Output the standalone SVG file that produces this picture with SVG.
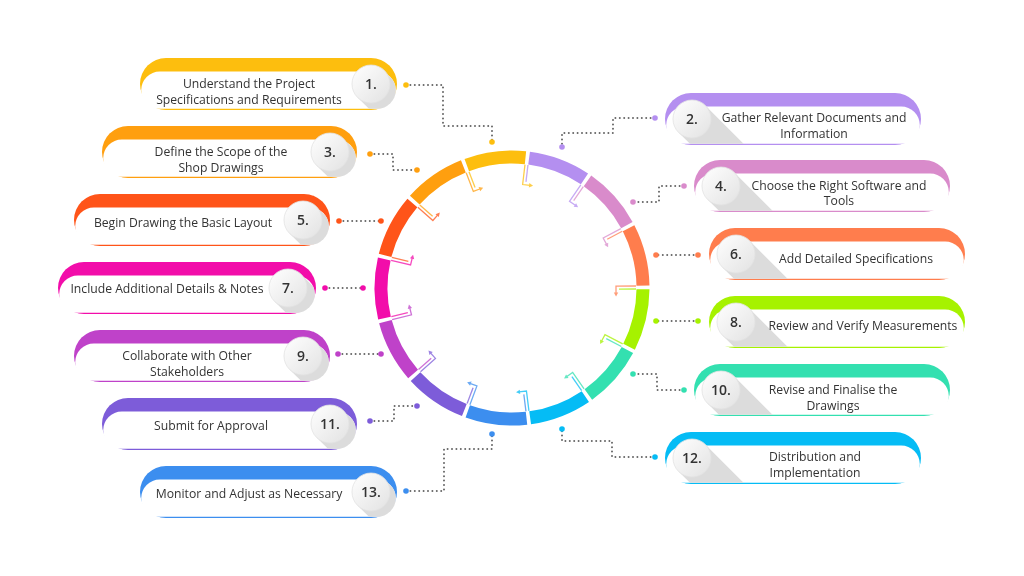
<svg xmlns="http://www.w3.org/2000/svg" width="1024" height="576" viewBox="0 0 1024 576">
<style>
.t{font-family:"Open Sans","Liberation Sans",sans-serif;font-size:12.2px;fill:#333;text-anchor:middle}
.n{font-family:"Open Sans","Liberation Sans",sans-serif;font-size:14px;font-weight:600;fill:#333;text-anchor:middle}
.conn{fill:none;stroke:#666;stroke-width:2;stroke-linecap:round;stroke-dasharray:0 4.4}
.seg{fill:none;stroke-width:13}
.dec{fill:none;stroke-width:1.3}
.sh{fill:#dcdcdc}
.cir{fill:url(#cg);stroke:#e2e2e2;stroke-width:.8}
</style>
<defs>
<linearGradient id="cg" x1="0" y1="0" x2="1" y2="1">
<stop offset="0" stop-color="#ffffff"/><stop offset="1" stop-color="#e2e2e2"/>
</linearGradient>
<clipPath id="c1"><rect x="141.2" y="71.5" width="254.6" height="37.3" rx="18.6"/></clipPath>
<clipPath id="c3"><rect x="103.2" y="139.5" width="252.6" height="37.3" rx="18.6"/></clipPath>
<clipPath id="c5"><rect x="75.2" y="207.5" width="253.6" height="37.3" rx="18.6"/></clipPath>
<clipPath id="c7"><rect x="59.2" y="275.5" width="255.6" height="37.3" rx="18.6"/></clipPath>
<clipPath id="c9"><rect x="75.2" y="343.5" width="253.6" height="37.3" rx="18.6"/></clipPath>
<clipPath id="c11"><rect x="103.2" y="411.5" width="252.6" height="37.3" rx="18.6"/></clipPath>
<clipPath id="c13"><rect x="141.2" y="479.5" width="254.6" height="37.3" rx="18.6"/></clipPath>
<clipPath id="c2"><rect x="666.2" y="106.5" width="253.6" height="37.3" rx="18.6"/></clipPath>
<clipPath id="c4"><rect x="695.2" y="173.5" width="253.6" height="37.3" rx="18.6"/></clipPath>
<clipPath id="c6"><rect x="710.2" y="241.5" width="253.6" height="37.3" rx="18.6"/></clipPath>
<clipPath id="c8"><rect x="710.2" y="309.5" width="253.6" height="37.3" rx="18.6"/></clipPath>
<clipPath id="c10"><rect x="695.2" y="377.5" width="253.6" height="37.3" rx="18.6"/></clipPath>
<clipPath id="c12"><rect x="666.2" y="445.5" width="253.6" height="37.3" rx="18.6"/></clipPath>
</defs>
<rect width="1024" height="576" fill="#fff"/>

<g id="ring">
<path class="seg" stroke="#FDBE0E" d="M466.79,165.04A131,131 0 0 1 525.47,157.69"/>
<path class="seg" stroke="#B48FF0" d="M529.10,158.12A131,131 0 0 1 584.47,178.86"/>
<path class="seg" stroke="#D98BCB" d="M587.50,180.93A131,131 0 0 1 626.89,225.05"/>
<path class="seg" stroke="#FF7D4D" d="M628.59,228.28A131,131 0 0 1 642.98,285.64"/>
<path class="seg" stroke="#A6F200" d="M642.99,289.30A131,131 0 0 1 629.07,346.78"/>
<path class="seg" stroke="#33E0B0" d="M627.40,350.03A131,131 0 0 1 588.36,394.46"/>
<path class="seg" stroke="#05BCF5" d="M585.35,396.53A131,131 0 0 1 530.14,417.74"/>
<path class="seg" stroke="#3C8EEF" d="M526.51,418.19A131,131 0 0 1 467.77,411.31"/>
<path class="seg" stroke="#7D5CD9" d="M464.34,410.03A131,131 0 0 1 415.53,376.63"/>
<path class="seg" stroke="#BF42C9" d="M413.11,373.91A131,131 0 0 1 385.40,321.65"/>
<path class="seg" stroke="#F20DAA" d="M384.50,318.12A131,131 0 0 1 384.25,258.97"/>
<path class="seg" stroke="#FF5419" d="M385.11,255.42A131,131 0 0 1 412.37,202.93"/>
<path class="seg" stroke="#FF9F0F" d="M414.77,200.18A131,131 0 0 1 463.37,166.37"/>
</g>

<g id="ring-marks" opacity="0.75">
<g transform="rotate(-20.99 512 288)"><path class="dec" stroke="#FF9F0F" d="M510.5,164V184H518"/><polygon fill="#FF9F0F" points="517,181.8 521,184 517,186.2"/><path class="dec" stroke="#FDBE0E" d="M513.5,164V181"/></g>
<g transform="rotate(6.70 512 288)"><path class="dec" stroke="#FDBE0E" d="M510.5,164V184H518"/><polygon fill="#FDBE0E" points="517,181.8 521,184 517,186.2"/><path class="dec" stroke="#B48FF0" d="M513.5,164V181"/></g>
<g transform="rotate(34.39 512 288)"><path class="dec" stroke="#B48FF0" d="M510.5,164V184H518"/><polygon fill="#B48FF0" points="517,181.8 521,184 517,186.2"/><path class="dec" stroke="#D98BCB" d="M513.5,164V181"/></g>
<g transform="rotate(62.08 512 288)"><path class="dec" stroke="#D98BCB" d="M510.5,164V184H518"/><polygon fill="#D98BCB" points="517,181.8 521,184 517,186.2"/><path class="dec" stroke="#FF7D4D" d="M513.5,164V181"/></g>
<g transform="rotate(89.77 512 288)"><path class="dec" stroke="#FF7D4D" d="M510.5,164V184H518"/><polygon fill="#FF7D4D" points="517,181.8 521,184 517,186.2"/><path class="dec" stroke="#A6F200" d="M513.5,164V181"/></g>
<g transform="rotate(117.46 512 288)"><path class="dec" stroke="#A6F200" d="M510.5,164V184H518"/><polygon fill="#A6F200" points="517,181.8 521,184 517,186.2"/><path class="dec" stroke="#33E0B0" d="M513.5,164V181"/></g>
<g transform="rotate(145.15 512 288)"><path class="dec" stroke="#33E0B0" d="M510.5,164V184H518"/><polygon fill="#33E0B0" points="517,181.8 521,184 517,186.2"/><path class="dec" stroke="#05BCF5" d="M513.5,164V181"/></g>
<g transform="rotate(172.84 512 288)"><path class="dec" stroke="#05BCF5" d="M510.5,164V184H518"/><polygon fill="#05BCF5" points="517,181.8 521,184 517,186.2"/><path class="dec" stroke="#3C8EEF" d="M513.5,164V181"/></g>
<g transform="rotate(200.53 512 288)"><path class="dec" stroke="#3C8EEF" d="M510.5,164V184H518"/><polygon fill="#3C8EEF" points="517,181.8 521,184 517,186.2"/><path class="dec" stroke="#7D5CD9" d="M513.5,164V181"/></g>
<g transform="rotate(228.22 512 288)"><path class="dec" stroke="#7D5CD9" d="M510.5,164V184H518"/><polygon fill="#7D5CD9" points="517,181.8 521,184 517,186.2"/><path class="dec" stroke="#BF42C9" d="M513.5,164V181"/></g>
<g transform="rotate(255.91 512 288)"><path class="dec" stroke="#BF42C9" d="M510.5,164V184H518"/><polygon fill="#BF42C9" points="517,181.8 521,184 517,186.2"/><path class="dec" stroke="#F20DAA" d="M513.5,164V181"/></g>
<g transform="rotate(283.60 512 288)"><path class="dec" stroke="#F20DAA" d="M510.5,164V184H518"/><polygon fill="#F20DAA" points="517,181.8 521,184 517,186.2"/><path class="dec" stroke="#FF5419" d="M513.5,164V181"/></g>
<g transform="rotate(311.29 512 288)"><path class="dec" stroke="#FF5419" d="M510.5,164V184H518"/><polygon fill="#FF5419" points="517,181.8 521,184 517,186.2"/><path class="dec" stroke="#FF9F0F" d="M513.5,164V181"/></g>
</g>

<g id="connectors">
<path class="conn" d="M406,85H443V126H492V142"/>
<path class="conn" d="M655,118H613V133H562V147"/>
<path class="conn" d="M370,154H393V170H417"/>
<path class="conn" d="M684,186H659V202H633"/>
<path class="conn" d="M339,221H381"/>
<path class="conn" d="M698,255H656"/>
<path class="conn" d="M325,288H363"/>
<path class="conn" d="M698,321H656"/>
<path class="conn" d="M338,354H381"/>
<path class="conn" d="M684,390H657V374H633"/>
<path class="conn" d="M370,421H394V406H417"/>
<path class="conn" d="M655,457H612V441H562V429"/>
<path class="conn" d="M406,491H444V449H492V434"/>
<g>
<circle cx="406" cy="85" r="2.8" fill="#FDBE0E"/><circle cx="492" cy="142" r="2.8" fill="#FDBE0E"/>
<circle cx="655" cy="118" r="2.8" fill="#B48FF0"/><circle cx="562" cy="147" r="2.8" fill="#B48FF0"/>
<circle cx="370" cy="154" r="2.8" fill="#FF9F0F"/><circle cx="417" cy="170" r="2.8" fill="#FF9F0F"/>
<circle cx="684" cy="186" r="2.8" fill="#D98BCB"/><circle cx="633" cy="202" r="2.8" fill="#D98BCB"/>
<circle cx="339" cy="221" r="2.8" fill="#FF5419"/><circle cx="381" cy="221" r="2.8" fill="#FF5419"/>
<circle cx="698" cy="255" r="2.8" fill="#FF7D4D"/><circle cx="656" cy="255" r="2.8" fill="#FF7D4D"/>
<circle cx="325" cy="288" r="2.8" fill="#F20DAA"/><circle cx="363" cy="288" r="2.8" fill="#F20DAA"/>
<circle cx="698" cy="321" r="2.8" fill="#A6F200"/><circle cx="656" cy="321" r="2.8" fill="#A6F200"/>
<circle cx="338" cy="354" r="2.8" fill="#BF42C9"/><circle cx="381" cy="354" r="2.8" fill="#BF42C9"/>
<circle cx="684" cy="390" r="2.8" fill="#33E0B0"/><circle cx="633" cy="374" r="2.8" fill="#33E0B0"/>
<circle cx="370" cy="421" r="2.8" fill="#7D5CD9"/><circle cx="417" cy="406" r="2.8" fill="#7D5CD9"/>
<circle cx="655" cy="457" r="2.8" fill="#05BCF5"/><circle cx="562" cy="429" r="2.8" fill="#05BCF5"/>
<circle cx="406" cy="491" r="2.8" fill="#3C8EEF"/><circle cx="492" cy="434" r="2.8" fill="#3C8EEF"/>
</g>
</g>

<g id="step1">
<rect x="140" y="58" width="257" height="52" rx="26" fill="#FDBE0E"/>
<rect x="141.2" y="71.5" width="254.6" height="37.3" rx="18.6" fill="#fff"/>
<polygon class="sh" clip-path="url(#c1)" points="357.6,97.4 384.4,70.6 464.4,150.6 437.6,177.4"/>
<circle class="cir" cx="371" cy="84" r="19"/>
<text class="n" x="371" y="89">1.</text>
<text class="t" x="249" y="88">Understand the Project</text>
<text class="t" x="249" y="103.5">Specifications and Requirements</text>
</g>

<g id="step3">
<rect x="102" y="126" width="255" height="52" rx="26" fill="#FF9F0F"/>
<rect x="103.2" y="139.5" width="252.6" height="37.3" rx="18.6" fill="#fff"/>
<polygon class="sh" clip-path="url(#c3)" points="316.6,165.4 343.4,138.6 423.4,218.6 396.6,245.4"/>
<circle class="cir" cx="330" cy="152" r="19"/>
<text class="n" x="330" y="157">3.</text>
<text class="t" x="221" y="156">Define the Scope of the</text>
<text class="t" x="221" y="171.5">Shop Drawings</text>
</g>

<g id="step5">
<rect x="74" y="194" width="256" height="52" rx="26" fill="#FF5419"/>
<rect x="75.2" y="207.5" width="253.6" height="37.3" rx="18.6" fill="#fff"/>
<polygon class="sh" clip-path="url(#c5)" points="289.6,233.4 316.4,206.6 396.4,286.6 369.6,313.4"/>
<circle class="cir" cx="303" cy="220" r="19"/>
<text class="n" x="303" y="225">5.</text>
<text class="t" x="183" y="227">Begin Drawing the Basic Layout</text>
</g>

<g id="step7">
<rect x="58" y="262" width="258" height="52" rx="26" fill="#F20DAA"/>
<rect x="59.2" y="275.5" width="255.6" height="37.3" rx="18.6" fill="#fff"/>
<polygon class="sh" clip-path="url(#c7)" points="274.6,301.4 301.4,274.6 381.4,354.6 354.6,381.4"/>
<circle class="cir" cx="288" cy="288" r="19"/>
<text class="n" x="288" y="293">7.</text>
<text class="t" x="167" y="293">Include Additional Details &amp; Notes</text>
</g>

<g id="step9">
<rect x="74" y="330" width="256" height="52" rx="26" fill="#BF42C9"/>
<rect x="75.2" y="343.5" width="253.6" height="37.3" rx="18.6" fill="#fff"/>
<polygon class="sh" clip-path="url(#c9)" points="289.6,369.4 316.4,342.6 396.4,422.6 369.6,449.4"/>
<circle class="cir" cx="303" cy="356" r="19"/>
<text class="n" x="303" y="361">9.</text>
<text class="t" x="187" y="360">Collaborate with Other</text>
<text class="t" x="187" y="375.5">Stakeholders</text>
</g>

<g id="step11">
<rect x="102" y="398" width="255" height="52" rx="26" fill="#7D5CD9"/>
<rect x="103.2" y="411.5" width="252.6" height="37.3" rx="18.6" fill="#fff"/>
<polygon class="sh" clip-path="url(#c11)" points="316.6,437.4 343.4,410.6 423.4,490.6 396.6,517.4"/>
<circle class="cir" cx="330" cy="424" r="19"/>
<text class="n" x="330" y="429">11.</text>
<text class="t" x="211" y="429.5">Submit for Approval</text>
</g>

<g id="step13">
<rect x="140" y="466" width="257" height="52" rx="26" fill="#3C8EEF"/>
<rect x="141.2" y="479.5" width="254.6" height="37.3" rx="18.6" fill="#fff"/>
<polygon class="sh" clip-path="url(#c13)" points="357.6,505.4 384.4,478.6 464.4,558.6 437.6,585.4"/>
<circle class="cir" cx="371" cy="492" r="19"/>
<text class="n" x="371" y="497">13.</text>
<text class="t" x="249" y="497.5">Monitor and Adjust as Necessary</text>
</g>

<g id="step2">
<rect x="665" y="93" width="256" height="52" rx="26" fill="#B48FF0"/>
<rect x="666.2" y="106.5" width="253.6" height="37.3" rx="18.6" fill="#fff"/>
<polygon class="sh" clip-path="url(#c2)" points="678.6,132.4 705.4,105.6 785.4,185.6 758.6,212.4"/>
<circle class="cir" cx="692" cy="119" r="19"/>
<text class="n" x="692" y="124">2.</text>
<text class="t" x="814" y="122">Gather Relevant Documents and</text>
<text class="t" x="814" y="137.5">Information</text>
</g>

<g id="step4">
<rect x="694" y="160" width="256" height="52" rx="26" fill="#D98BCB"/>
<rect x="695.2" y="173.5" width="253.6" height="37.3" rx="18.6" fill="#fff"/>
<polygon class="sh" clip-path="url(#c4)" points="707.6,199.4 734.4,172.6 814.4,252.6 787.6,279.4"/>
<circle class="cir" cx="721" cy="186" r="19"/>
<text class="n" x="721" y="191">4.</text>
<text class="t" x="839" y="189.5">Choose the Right Software and</text>
<text class="t" x="839" y="205">Tools</text>
</g>

<g id="step6">
<rect x="709" y="228" width="256" height="52" rx="26" fill="#FF7D4D"/>
<rect x="710.2" y="241.5" width="253.6" height="37.3" rx="18.6" fill="#fff"/>
<polygon class="sh" clip-path="url(#c6)" points="722.6,267.4 749.4,240.6 829.4,320.6 802.6,347.4"/>
<circle class="cir" cx="736" cy="254" r="19"/>
<text class="n" x="736" y="259">6.</text>
<text class="t" x="856" y="263">Add Detailed Specifications</text>
</g>

<g id="step8">
<rect x="709" y="296" width="256" height="52" rx="26" fill="#A6F200"/>
<rect x="710.2" y="309.5" width="253.6" height="37.3" rx="18.6" fill="#fff"/>
<polygon class="sh" clip-path="url(#c8)" points="722.6,335.4 749.4,308.6 829.4,388.6 802.6,415.4"/>
<circle class="cir" cx="736" cy="322" r="19"/>
<text class="n" x="736" y="327">8.</text>
<text class="t" x="863" y="329.5">Review and Verify Measurements</text>
</g>

<g id="step10">
<rect x="694" y="364" width="256" height="52" rx="26" fill="#33E0B0"/>
<rect x="695.2" y="377.5" width="253.6" height="37.3" rx="18.6" fill="#fff"/>
<polygon class="sh" clip-path="url(#c10)" points="707.6,403.4 734.4,376.6 814.4,456.6 787.6,483.4"/>
<circle class="cir" cx="721" cy="390" r="19"/>
<text class="n" x="721" y="395">10.</text>
<text class="t" x="833" y="394">Revise and Finalise the</text>
<text class="t" x="833" y="409.5">Drawings</text>
</g>

<g id="step12">
<rect x="665" y="432" width="256" height="52" rx="26" fill="#05BCF5"/>
<rect x="666.2" y="445.5" width="253.6" height="37.3" rx="18.6" fill="#fff"/>
<polygon class="sh" clip-path="url(#c12)" points="678.6,471.4 705.4,444.6 785.4,524.6 758.6,551.4"/>
<circle class="cir" cx="692" cy="458" r="19"/>
<text class="n" x="692" y="463">12.</text>
<text class="t" x="815" y="461">Distribution and</text>
<text class="t" x="815" y="476.5">Implementation</text>
</g>
</svg>
